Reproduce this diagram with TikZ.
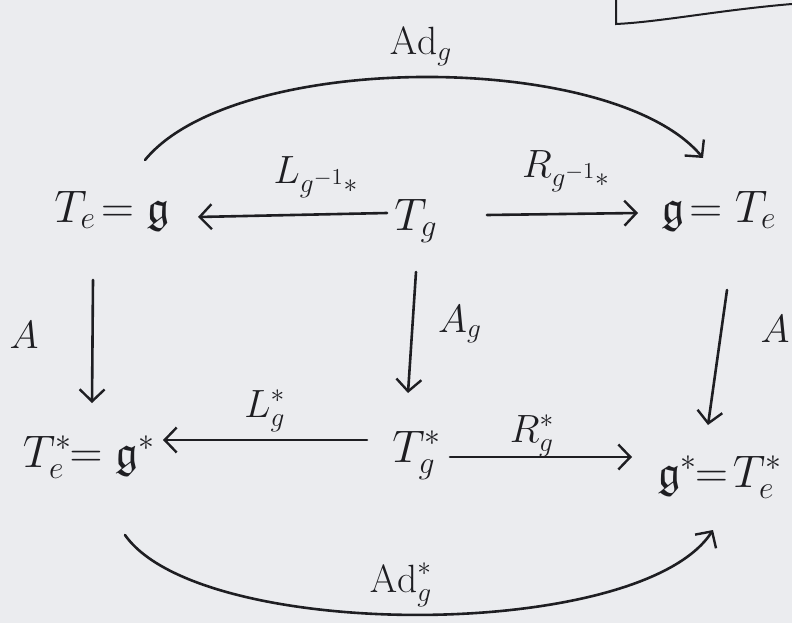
\documentclass[tikz,border=0pt]{standalone}
\usepackage{amssymb}
\usepackage{graphicx}
\usetikzlibrary{arrows.meta}
\definecolor{ink}{HTML}{1E1E22}
\definecolor{paper}{HTML}{EBECEF}
\newcommand{\objtext}[1]{\scalebox{2.2}{#1}}
\newcommand{\labtext}[1]{\scalebox{1.9}{#1}}
\begin{document}
\begin{tikzpicture}[x=1pt,y=-1pt,
  inkline/.style={draw=ink,line width=2.6pt,line cap=round},
  arr/.style={inkline,-{Straight Barb[length=12pt,width=25pt,line width=2.4pt]}},
  obj/.style={text=ink,font=\huge,inner sep=0pt,anchor=base},
  lab/.style={text=ink,font=\huge,inner sep=0pt,anchor=base}]
\fill[paper] (0,0) rectangle (792,623);
\useasboundingbox (0,0) rectangle (792,623);
% objects (placed on their baselines)
\node[obj] (teL) at (112,222) {\objtext{$T_e\!=\mathfrak{g}$}};
\node[obj] (tg)  at (416,230) {\objtext{$T_g$}};
\node[obj] (teR) at (719,222) {\objtext{$\mathfrak{g}\!=T_e$}};
\node[obj] (tsL) at (89,467)  {\objtext{$T_e^*\!\!=\mathfrak{g}^*$}};
\node[obj] (tgs) at (417,462) {\objtext{$T_g^*$}};
\node[obj] (tsR) at (720,487) {\objtext{$\mathfrak{g}^*\!\!=\!T_e^*$}};
% labels
\node[lab] (lAd)  at (421,55)  {\labtext{$\mathrm{Ad}_g$}};
\node[lab] (lL)   at (316,183) {\labtext{$L_{g^{-1}*}$}};
\node[lab] (lR)   at (566,177) {\labtext{$R_{g^{-1}*}$}};
\node[lab] (lA1)  at (24,348)  {\labtext{$A$}};
\node[lab] (lAg)  at (460,332) {\labtext{$A_g$}};
\node[lab] (lA2)  at (775,342) {\labtext{$A$}};
\node[lab] (lLs)  at (265,417) {\labtext{$L_g^*$}};
\node[lab] (lRs)  at (532,442) {\labtext{$R_g^*$}};
\node[lab] (lAds) at (401,592) {\labtext{$\mathrm{Ad}_g^*$}};
% horizontal arrows
\draw[arr] ([shift={(-29,-17)}]tg.base) -- ([shift={(86,-5)}]teL.base);
\draw[arr] ([shift={(71,-15)}]tg.base) -- ([shift={(-81,-9)}]teR.base);
\draw[arr] ([shift={(-50,-22)}]tgs.base) -- ([shift={(74,-27)}]tsL.base);
\draw[arr] ([shift={(33,-5)}]tgs.base) -- ([shift={(-88,-30)}]tsR.base);
% vertical arrows
\draw[arr] ([shift={(-19,58)}]teL.base) -- ([shift={(3,-64)}]tsL.base);
\draw[arr] ([shift={(0,42)}]tg.base) -- ([shift={(-9,-69)}]tgs.base);
\draw[arr] ([shift={(8,68)}]teR.base) -- ([shift={(-12,-62)}]tsR.base);
% curved arrows
\draw[arr] ([shift={(33,-62)}]teL.base) .. controls +(90,-110) and +(-90,-108) .. ([shift={(-16,-64)}]teR.base);
\draw[arr] ([shift={(36,68)}]tsL.base) .. controls +(75,107) and +(-73,112) .. ([shift={(-7,43)}]tsR.base);
% fragment of a box, top right
\draw[inkline,line width=2pt] (616,0) -- (616,24) .. controls (660,22) and (720,10) .. (792,4);
\end{tikzpicture}
\end{document}
